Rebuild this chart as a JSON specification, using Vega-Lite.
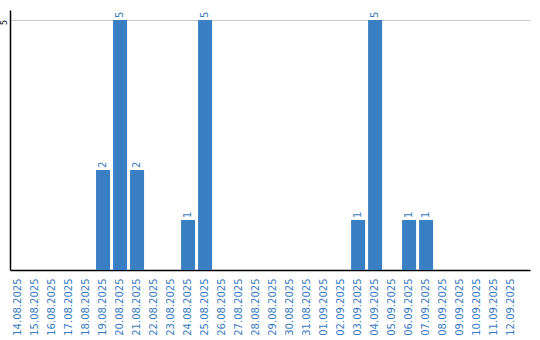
{
  "$schema": "https://vega.github.io/schema/vega-lite/v6.json",
  "autosize": {"type": "none"},
  "padding": {"left": 10, "top": 10, "right": 10, "bottom": 70},
  "width": 520,
  "height": 260,
  "background": "white",
  "config": {"view": {"stroke": null}, "font": "DejaVu Sans"},
  "data": {"values": [
    {"date": "14.08.2025", "count": 0},
    {"date": "15.08.2025", "count": 0},
    {"date": "16.08.2025", "count": 0},
    {"date": "17.08.2025", "count": 0},
    {"date": "18.08.2025", "count": 0},
    {"date": "19.08.2025", "count": 2},
    {"date": "20.08.2025", "count": 5},
    {"date": "21.08.2025", "count": 2},
    {"date": "22.08.2025", "count": 0},
    {"date": "23.08.2025", "count": 0},
    {"date": "24.08.2025", "count": 1},
    {"date": "25.08.2025", "count": 5},
    {"date": "26.08.2025", "count": 0},
    {"date": "27.08.2025", "count": 0},
    {"date": "28.08.2025", "count": 0},
    {"date": "29.08.2025", "count": 0},
    {"date": "30.08.2025", "count": 0},
    {"date": "31.08.2025", "count": 0},
    {"date": "01.09.2025", "count": 0},
    {"date": "02.09.2025", "count": 0},
    {"date": "03.09.2025", "count": 1},
    {"date": "04.09.2025", "count": 5},
    {"date": "05.09.2025", "count": 0},
    {"date": "06.09.2025", "count": 1},
    {"date": "07.09.2025", "count": 1},
    {"date": "08.09.2025", "count": 0},
    {"date": "09.09.2025", "count": 0},
    {"date": "10.09.2025", "count": 0},
    {"date": "11.09.2025", "count": 0},
    {"date": "12.09.2025", "count": 0}
  ]},
  "encoding": {
    "x": {
      "field": "date", "type": "nominal", "sort": null,
      "scale": {"paddingInner": 0.176, "paddingOuter": 0.38, "align": 0.08},
      "axis": {
        "title": null, "ticks": false, "labelAngle": 270, "labelAlign": "right",
        "labelBaseline": "middle", "labelPadding": 8, "labelFontSize": 10,
        "labelColor": "#3a7bc0", "domainColor": "#000000", "domainWidth": 1.5,
        "labelFont": "DejaVu Sans"
      }
    },
    "y": {
      "field": "count", "type": "quantitative",
      "scale": {"domain": [0, 5.2], "nice": false, "zero": true},
      "axis": {
        "title": null, "values": [5], "ticks": false, "labelAngle": 270,
        "labelAlign": "center", "labelBaseline": "middle", "labelPadding": 6,
        "labelOffset": 2, "labelFontSize": 8, "labelColor": "#000000",
        "domainColor": "#000000", "domainWidth": 1.5, "gridColor": "#c8c8c8",
        "gridWidth": 1, "grid": true
      }
    }
  },
  "layer": [
    {"mark": {"type": "bar", "color": "#3a7fc4"}},
    {
      "transform": [{"filter": "datum.count > 0"}],
      "mark": {"type": "text", "angle": 270, "align": "left", "baseline": "middle",
               "dx": 2, "fontSize": 10, "color": "#3a7bc0", "font": "DejaVu Sans"},
      "encoding": {"text": {"field": "count", "type": "quantitative"}}
    }
  ]
}
